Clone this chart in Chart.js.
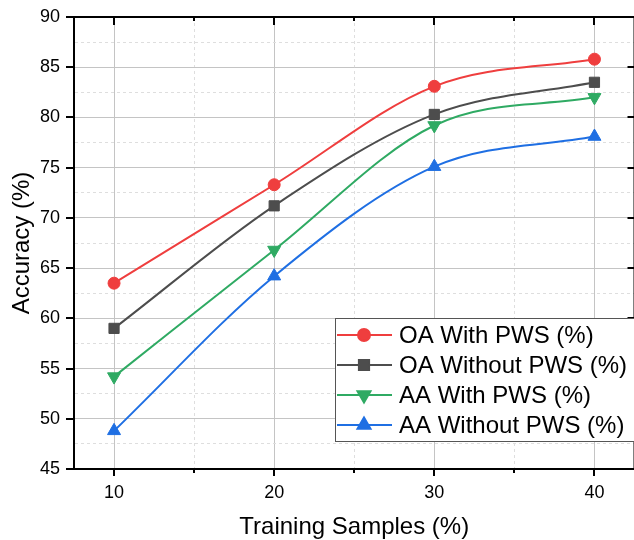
<!DOCTYPE html>
<html>
<head>
<meta charset="utf-8">
<title>Accuracy vs Training Samples</title>
<script src="https://cdn.jsdelivr.net/npm/chart.js@4.4.0/dist/chart.umd.min.js"></script>
<style>
  html, body { margin: 0; padding: 0; background: #fff; overflow: hidden; }
  #wrap { width: 640px; height: 540px; }
</style>
</head>
<body>
<div id="wrap"><canvas id="accChart" width="640" height="540"></canvas></div>
<script>
// values
const samples = [10, 20, 30, 40];
const oaWithPws = [63.5, 73.3, 83.1, 85.8];
const oaWithoutPws = [59.0, 71.2, 80.3, 83.5];
const aaWithPws = [54.2, 66.8, 79.2, 82.0];
const aaWithoutPws = [48.8, 64.2, 75.1, 78.1];
const seriesNames = ["OA With PWS (%)", "OA Without PWS (%)", "AA With PWS (%)", "AA Without PWS (%)"];
const xTicks = [10, 15, 20, 25, 30, 35, 40];
const yTicks = [45, 47.5, 50, 52.5, 55, 57.5, 60, 62.5, 65, 67.5, 70, 72.5, 75, 77.5, 80, 82.5, 85, 87.5, 90];

const FONT = '"Liberation Sans", Arial, sans-serif';
Chart.defaults.font.family = FONT;
Chart.defaults.color = '#000';

const styles = [
  { color: '#ef3e3e', point: 'circle', radius: 6, rotation: 0 },
  { color: '#4d4d4d', point: 'rect', radius: 7.2, rotation: 0 },
  { color: '#2faa63', point: 'triangle', radius: 7.5, rotation: 180 },
  { color: '#1f6fe3', point: 'triangle', radius: 7.5, rotation: 0 }
];
const allSeries = [oaWithPws, oaWithoutPws, aaWithPws, aaWithoutPws];

const datasets = allSeries.map((vals, i) => ({
  label: seriesNames[i],
  data: vals.map((v, j) => ({ x: samples[j], y: v })),
  borderColor: styles[i].color,
  backgroundColor: styles[i].color,
  borderWidth: 2,
  cubicInterpolationMode: 'monotone',
  pointStyle: styles[i].point,
  pointRadius: styles[i].radius,
  pointRotation: styles[i].rotation,
  pointBackgroundColor: styles[i].color,
  pointBorderColor: styles[i].color,
  pointBorderWidth: 1
}));

const isMajorX = v => v % 10 === 0;
const isMajorY = v => v % 5 === 0;

// black frame on top/right plus the tick marks
const framePlugin = {
  id: 'frame',
  afterDraw(chart) {
    const { ctx, chartArea: a, scales } = chart;
    ctx.save();
    ctx.strokeStyle = '#000';
    ctx.lineWidth = 2;
    ctx.beginPath();
    ctx.moveTo(a.left - 1, a.top);
    ctx.lineTo(a.right + 1, a.top);
    ctx.moveTo(a.right, a.top);
    ctx.lineTo(a.right, a.bottom);
    xTicks.forEach(v => {
      const px = Math.round(scales.x.getPixelForValue(v));
      ctx.moveTo(px, a.bottom);
      ctx.lineTo(px, a.bottom + (isMajorX(v) ? 7 : 4));
      ctx.moveTo(px, a.top);
      ctx.lineTo(px, a.top + (isMajorX(v) ? 8 : 4));
    });
    yTicks.filter(isMajorY).forEach(v => {
      const py = Math.round(scales.y.getPixelForValue(v));
      ctx.moveTo(a.left - 8, py);
      ctx.lineTo(a.left, py);
      ctx.moveTo(a.right - 7, py);
      ctx.lineTo(a.right, py);
    });
    ctx.stroke();
    ctx.restore();
  }
};

// boxed legend with line + marker samples
const legendPlugin = {
  id: 'boxLegend',
  afterDraw(chart) {
    const { ctx } = chart;
    const left = 335, top = 318, rowH = 30;
    ctx.save();
    ctx.fillStyle = '#fff';
    ctx.fillRect(left, top, 320, 123);
    ctx.strokeStyle = '#555';
    ctx.lineWidth = 1;
    ctx.strokeRect(left + 0.5, top + 0.5, 320, 123);
    chart.data.datasets.forEach((ds, i) => {
      const cy = top + 17 + i * rowH;
      ctx.strokeStyle = ds.borderColor;
      ctx.lineWidth = 2;
      ctx.beginPath();
      ctx.moveTo(left + 2, cy);
      ctx.lineTo(left + 57, cy);
      ctx.stroke();
      ctx.fillStyle = ds.borderColor;
      Chart.helpers.drawPoint(ctx, {
        pointStyle: ds.pointStyle,
        rotation: ds.pointRotation,
        radius: ds.pointRadius,
        borderWidth: 1
      }, left + 29, cy);
      ctx.fillStyle = '#000';
      ctx.font = '24px ' + FONT;
      ctx.textBaseline = 'middle';
      ctx.textAlign = 'left';
      ctx.fillText(ds.label, left + 64, cy + 1);
    });
    ctx.restore();
  }
};

new Chart(document.getElementById('accChart'), {
  type: 'line',
  data: { datasets: datasets },
  options: {
    responsive: false,
    animation: false,
    layout: { autoPadding: false, padding: { top: 17, right: 5.5, left: 0, bottom: 0 } },
    plugins: { legend: { display: false }, tooltip: { enabled: false } },
    scales: {
      x: {
        type: 'linear',
        min: 7.5,
        max: 42.5,
        afterBuildTicks: s => { s.ticks = xTicks.map(v => ({ value: v })); },
        afterFit: s => { s.height = 71; s.paddingLeft = 0; s.paddingRight = 0; },
        ticks: {
          autoSkip: false,
          maxRotation: 0,
          padding: 13,
          font: { size: 18 },
          callback: v => isMajorX(v) ? v : ''
        },
        grid: {
          drawTicks: false,
          color: c => c.tick && !isMajorX(c.tick.value) ? '#dedede' : '#c4c4c4',
          lineWidth: 1
        },
        border: {
          color: '#000',
          width: 2,
          dash: c => c.tick && !isMajorX(c.tick.value) ? [3, 3] : []
        },
        title: { display: true, text: 'Training Samples (%)', font: { size: 24 }, padding: -2 }
      },
      y: {
        min: 45,
        max: 90,
        afterBuildTicks: s => { s.ticks = yTicks.map(v => ({ value: v })); },
        afterFit: s => { s.width = 74; s.paddingTop = 0; s.paddingBottom = 0; },
        ticks: {
          autoSkip: false,
          padding: 14,
          font: { size: 18 },
          callback: v => isMajorY(v) ? v : ''
        },
        grid: {
          drawTicks: false,
          color: c => c.tick && !isMajorY(c.tick.value) ? '#dedede' : '#c4c4c4',
          lineWidth: 1
        },
        border: {
          color: '#000',
          width: 2,
          dash: c => c.tick && !isMajorY(c.tick.value) ? [3, 3] : []
        },
        title: { display: true, text: 'Accuracy (%)', font: { size: 24 }, padding: 8 }
      }
    }
  },
  plugins: [framePlugin, legendPlugin]
});
</script>
</body>
</html>
